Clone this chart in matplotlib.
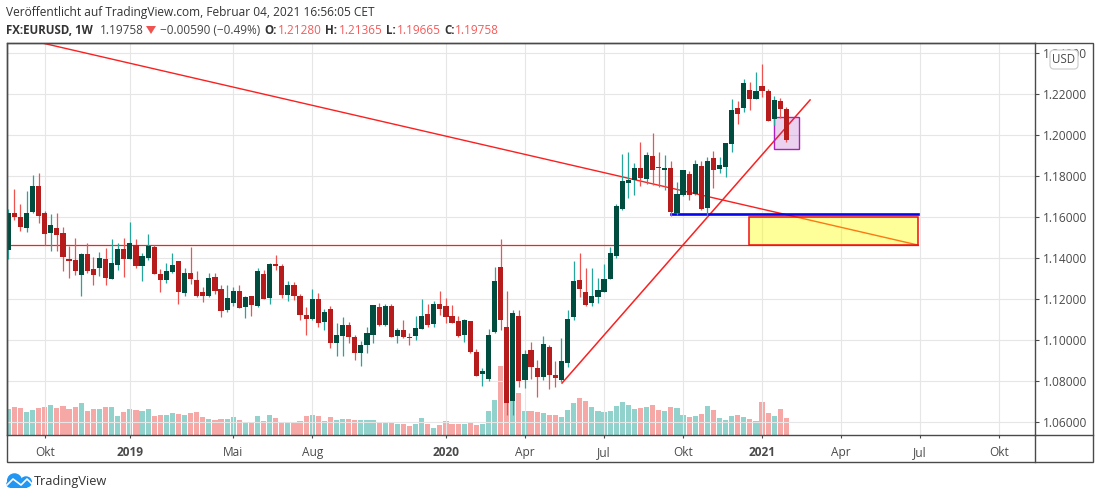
# EURUSD weekly chart, TradingView snapshot
import matplotlib
matplotlib.use("Agg")
import matplotlib.pyplot as plt
from matplotlib.patches import Rectangle, FancyBboxPatch, Polygon, Ellipse

plt.rcParams["font.family"] = ["Open Sans", "DejaVu Sans"]

opens = [
    1.1439, 1.1618, 1.1598, 1.1544, 1.1624, 1.1749, 1.1618, 1.1520, 1.1544, 1.1520,
    1.1393, 1.1388, 1.1315, 1.1418, 1.1344, 1.1349, 1.1393, 1.1296, 1.1364, 1.1442,
    1.1393, 1.1461, 1.1359, 1.1398, 1.1452, 1.1320, 1.1291, 1.1330, 1.1383, 1.1227,
    1.1325, 1.1291, 1.1232, 1.1213, 1.1305, 1.1247, 1.1144, 1.1179, 1.1237, 1.1159,
    1.1213, 1.1164, 1.1323, 1.1206, 1.1372, 1.1362, 1.1221, 1.1270, 1.1216, 1.1123,
    1.1104, 1.1201, 1.1089, 1.1153, 1.0987, 1.1021, 1.1075, 1.1016, 1.0938, 1.0977,
    1.1026, 1.1162, 1.1075, 1.1167, 1.1021, 1.1050, 1.1016, 1.1021, 1.1055, 1.1128,
    1.1079, 1.1177, 1.1167, 1.1118, 1.1094, 1.1026, 1.1094, 1.0943, 1.0836, 1.0811,
    1.1040, 1.1358, 1.1065, 1.0704, 1.1118, 1.0806, 1.0953, 1.0865, 1.0821, 1.0967,
    1.0831, 1.0806, 1.0889, 1.1114, 1.1294, 1.1236, 1.1182, 1.1211, 1.1236, 1.1299,
    1.1411, 1.1639, 1.1766, 1.1780, 1.1839, 1.1785, 1.1897, 1.1844, 1.1829, 1.1839,
    1.1619, 1.1707, 1.1810, 1.1712, 1.1849, 1.1644, 1.1888, 1.1834, 1.1844, 1.1956,
    1.2132, 1.2132, 1.2220, 1.2176, 1.2239, 1.2215, 1.2078, 1.2166, 1.2128,
]
highs = [
    1.1640, 1.1735, 1.1661, 1.1725, 1.1803, 1.1816, 1.1629, 1.1613, 1.1621, 1.1553,
    1.1458, 1.1500, 1.1422, 1.1474, 1.1403, 1.1427, 1.1447, 1.1491, 1.1474, 1.1500,
    1.1575, 1.1491, 1.1422, 1.1515, 1.1461, 1.1344, 1.1374, 1.1422, 1.1383, 1.1349,
    1.1452, 1.1335, 1.1257, 1.1325, 1.1325, 1.1266, 1.1266, 1.1257, 1.1266, 1.1217,
    1.1217, 1.1349, 1.1343, 1.1377, 1.1416, 1.1372, 1.1289, 1.1284, 1.1226, 1.1162,
    1.1250, 1.1231, 1.1153, 1.1167, 1.1084, 1.1114, 1.1089, 1.1026, 1.0997, 1.1065,
    1.1172, 1.1182, 1.1177, 1.1177, 1.1060, 1.1099, 1.1036, 1.1118, 1.1201, 1.1177,
    1.1192, 1.1240, 1.1206, 1.1172, 1.1118, 1.1104, 1.1094, 1.0958, 1.0865, 1.1055,
    1.1358, 1.1494, 1.1240, 1.1148, 1.1148, 1.0953, 1.0992, 1.0904, 1.1021, 1.0977,
    1.0899, 1.1011, 1.1148, 1.1387, 1.1426, 1.1353, 1.1353, 1.1304, 1.1372, 1.1455,
    1.1663, 1.1907, 1.1917, 1.1863, 1.1966, 1.1917, 1.2010, 1.1917, 1.1902, 1.1873,
    1.1771, 1.1829, 1.1824, 1.1878, 1.1873, 1.1892, 1.1922, 1.1892, 1.1961, 1.2176,
    1.2166, 1.2274, 1.2259, 1.2308, 1.2347, 1.2225, 1.2191, 1.2181, 1.21365,
]
lows = [
    1.1393, 1.1585, 1.1531, 1.1526, 1.1618, 1.1569, 1.1461, 1.1432, 1.1432, 1.1335,
    1.1301, 1.1315, 1.1214, 1.1325, 1.1266, 1.1310, 1.1266, 1.1296, 1.1340, 1.1305,
    1.1393, 1.1349, 1.1286, 1.1388, 1.1320, 1.1232, 1.1276, 1.1328, 1.1174, 1.1217,
    1.1271, 1.1208, 1.1183, 1.1208, 1.1222, 1.1110, 1.1136, 1.1166, 1.1154, 1.1105,
    1.1115, 1.1159, 1.1200, 1.1177, 1.1343, 1.1206, 1.1192, 1.1197, 1.1099, 1.1026,
    1.1099, 1.1065, 1.1050, 1.0962, 1.0923, 1.0923, 1.0987, 1.0904, 1.0875, 1.0938,
    1.0987, 1.1070, 1.1070, 1.1016, 1.0987, 1.1011, 1.0977, 1.1001, 1.1055, 1.1065,
    1.1065, 1.1123, 1.1084, 1.1084, 1.1016, 1.0992, 1.0938, 1.0826, 1.0777, 1.0801,
    1.1036, 1.1050, 1.0636, 1.0636, 1.0772, 1.0767, 1.0811, 1.0723, 1.0806, 1.0762,
    1.0772, 1.0797, 1.0870, 1.1099, 1.1211, 1.1167, 1.1167, 1.1182, 1.1236, 1.1299,
    1.1401, 1.1634, 1.1693, 1.1707, 1.1751, 1.1761, 1.1756, 1.1746, 1.1732, 1.1605,
    1.1610, 1.1702, 1.1683, 1.1707, 1.1634, 1.1600, 1.1741, 1.1814, 1.1795, 1.1917,
    1.2054, 1.2113, 1.2122, 1.2176, 1.2186, 1.2069, 1.2049, 1.2083, 1.19665,
]
closes = [
    1.1621, 1.1598, 1.1551, 1.1621, 1.1749, 1.1605, 1.1515, 1.1559, 1.1510, 1.1403,
    1.1383, 1.1335, 1.1418, 1.1335, 1.1315, 1.1398, 1.1301, 1.1374, 1.1442, 1.1393,
    1.1471, 1.1359, 1.1408, 1.1457, 1.1320, 1.1291, 1.1335, 1.1364, 1.1232, 1.1325,
    1.1296, 1.1217, 1.1213, 1.1301, 1.1237, 1.1140, 1.1203, 1.1237, 1.1154, 1.1208,
    1.1169, 1.1335, 1.1201, 1.1372, 1.1362, 1.1221, 1.1270, 1.1216, 1.1123, 1.1104,
    1.1201, 1.1084, 1.1138, 1.0987, 1.1026, 1.1075, 1.1016, 1.0938, 1.0977, 1.1036,
    1.1172, 1.1075, 1.1167, 1.1016, 1.1050, 1.1016, 1.1011, 1.1060, 1.1118, 1.1075,
    1.1177, 1.1153, 1.1114, 1.1084, 1.1021, 1.1099, 1.0943, 1.0826, 1.0850, 1.1026,
    1.1289, 1.1099, 1.0694, 1.1133, 1.0801, 1.0933, 1.0870, 1.0821, 1.0982, 1.0831,
    1.0816, 1.0899, 1.1104, 1.1289, 1.1250, 1.1172, 1.1216, 1.1245, 1.1299, 1.1426,
    1.1653, 1.1775, 1.1780, 1.1839, 1.1790, 1.1902, 1.1829, 1.1839, 1.1839, 1.1624,
    1.1712, 1.1829, 1.1707, 1.1858, 1.1639, 1.1873, 1.1829, 1.1853, 1.1961, 1.2122,
    1.2103, 1.2254, 1.2176, 1.2215, 1.2215, 1.2069, 1.2171, 1.2127, 1.19758,
]
volumes = [
    79, 85, 82, 70, 76, 82, 85, 91, 82, 88, 79, 85, 97, 73, 79, 79, 85, 85, 58, 70,
    79, 76, 73, 79, 58, 61, 61, 67, 64, 61, 67, 70, 55, 49, 46, 49, 49, 55, 46, 40,
    37, 58, 43, 61, 52, 40, 40, 40, 43, 58, 61, 58, 43, 55, 46, 49, 49, 46, 46, 46,
    46, 37, 40, 40, 34, 34, 28, 34, 52, 34, 22, 31, 43, 34, 34, 34, 37, 31, 34, 73,
    106, 207, 150, 135, 127, 73, 73, 70, 67, 61, 61, 55, 76, 97, 112, 103, 85, 73, 70, 73,
    88, 100, 91, 79, 82, 85, 91, 76, 73, 85, 82, 61, 55, 58, 64, 88, 76, 52, 46, 58,
    61, 55, 49, 43, 100, 67, 58, 79, 52,
]

price_ticks = [1.06, 1.08, 1.10, 1.12, 1.14, 1.16, 1.18, 1.20, 1.22, 1.24]
time_ticks = [6, 20, 37, 50, 72, 85, 98, 111, 124, 137, 150, 163]
time_labels = ["Okt", "2019", "Mai", "Aug", "2020", "Apr", "Jul", "Okt", "2021", "Apr", "Jul", "Okt"]
year_labels = ["2019", "2020", "2021"]

# drawings on the chart, bar index and price
falling_x = [5.54, 149.67]
falling_y = [1.2449, 1.1463]
rising_x = [91.1, 131.9]
rising_y = [1.0790, 1.2171]
support_level = 1.1462
blue_level = 1.1615
blue_start = 109.0
drawing_end = 149.7
yellow_box = [121.9, 1.1462, 27.8, 0.0140]
purple_box = [126.0, 1.1933, 4.0, 0.0153]

W, H = 1100, 499
L, R, T, B = 6.7, 1035, 43, 435
FRAME = "#4a4a4a"
TEXT = "#4a4a4a"
RED_TXT = "#f45b5b"
LINE_RED = "#fb2020"

fig = plt.figure(figsize=(W / 100, H / 100), dpi=100, facecolor="white")
rect = [L / W, 1 - B / H, (R - L) / W, (B - T) / H]

vol_ax = fig.add_axes(rect, zorder=1)
ax = fig.add_axes(rect, zorder=2)
ax.patch.set_visible(False)

idx = list(range(len(opens)))
up = [c >= o for o, c in zip(opens, closes)]

vol_ax.bar(idx, volumes, width=0.85, linewidth=0,
           color=["#26a69a" if u else "#ef5350" for u in up], alpha=0.5)
vol_ax.set_xlim(-0.26, 168.9)
vol_ax.set_ylim(0, 1176)
vol_ax.axis("off")

# drawings sit under the candles
ax.plot(falling_x, falling_y, color=LINE_RED, linewidth=1.0, zorder=2)
ax.plot([-0.26, drawing_end], [support_level, support_level], color=LINE_RED, linewidth=0.9, zorder=2)
ax.plot(rising_x, rising_y, color=LINE_RED, linewidth=1.1, zorder=2)
ax.add_patch(Rectangle(yellow_box[:2], yellow_box[2], yellow_box[3], facecolor="#ffff00",
                       alpha=0.4, linewidth=0, zorder=2.2))
ax.add_patch(Rectangle(yellow_box[:2], yellow_box[2], yellow_box[3], fill=False,
                       edgecolor="#f01010", linewidth=1.1, zorder=2.3))
ax.add_patch(Rectangle(purple_box[:2], purple_box[2], purple_box[3], facecolor="#9c27b0",
                       alpha=0.2, linewidth=0, zorder=2.2))
ax.add_patch(Rectangle(purple_box[:2], purple_box[2], purple_box[3], fill=False,
                       edgecolor="#aa22bb", linewidth=1.0, zorder=2.3))
ax.plot([blue_start, drawing_end], [blue_level, blue_level], color="#0505ee", linewidth=1.9, zorder=2.4)

ax.vlines(idx, lows, highs, colors=["#26a69a" if u else "#ef5350" for u in up],
          linewidth=0.9, zorder=3)
ax.bar(idx, [abs(c - o) for o, c in zip(opens, closes)],
       bottom=[min(o, c) for o, c in zip(opens, closes)], width=0.85, linewidth=0,
       color=["#004d40" if u else "#b71c1c" for u in up], zorder=4)

ax.set_xlim(-0.26, 168.9)
ax.set_ylim(1.05366, 1.24488)
ax.set_yticks(price_ticks)
ax.set_yticklabels([f"{p:.5f}" for p in price_ticks])
ax.set_xticks(time_ticks)
ax.set_xticklabels(time_labels)
ax.yaxis.tick_right()
ax.grid(True, color="#e6e6e6", linewidth=0.8, zorder=0)
ax.set_axisbelow(True)
ax.tick_params(axis="both", width=0.8, color=FRAME, labelcolor=TEXT, labelsize=8.6)
ax.tick_params(axis="x", length=2.2, pad=5.6)
ax.tick_params(axis="y", length=3, pad=3)
for lab in ax.get_xticklabels():
    if lab.get_text() in year_labels:
        lab.set_fontweight("bold")
for s in ax.spines.values():
    s.set_color(FRAME)
    s.set_linewidth(1.0)

# page furniture in pixel coordinates
page = fig.add_axes([0, 0, 1, 1], zorder=3)
page.set_xlim(0, W)
page.set_ylim(H, 0)
page.axis("off")
page.patch.set_visible(False)
page.add_patch(Rectangle((L, T), 1093 - L, 462 - T, fill=False, edgecolor=FRAME, linewidth=1.0))
page.plot([R, 1093], [B, B], color=FRAME, linewidth=1.0)
page.plot([R, R], [B, 462], color=FRAME, linewidth=1.0)
page.add_patch(FancyBboxPatch((1052, 52), 24, 15, boxstyle="round,pad=2,rounding_size=4",
                              facecolor="white", edgecolor="#d0d0d0", linewidth=0.9))
page.text(1064, 59, "USD", fontsize=8.3, color=TEXT, ha="center", va="center")

page.text(6, 12.5, "Veröffentlicht auf TradingView.com, Februar 04, 2021 16:56:05 CET",
          fontsize=8.6, color="#333333", va="center")
y2 = 30
page.text(6, y2, "FX:EURUSD, 1W", fontsize=8.3, fontweight="bold", color="#333333", va="center")
page.text(100, y2, "1.19758", fontsize=8.5, color="#444444", va="center")
page.add_patch(Polygon([(146, 26), (156, 26), (151, 34)], closed=True, facecolor="#ef5350", linewidth=0))
page.text(160, y2, "−0.00590 (−0.49%)", fontsize=8.5, color="#444444", va="center")
for x, s in [(264, "O:"), (325, "H:"), (386, "L:"), (444, "C:")]:
    page.text(x, y2, s, fontsize=8.3, fontweight="bold", color="#333333", va="center")
for x, s in [(278, "1.21280"), (339, "1.21365"), (397, "1.19665"), (455, "1.19758")]:
    page.text(x, y2, s, fontsize=8.5, color=RED_TXT, va="center")

# logo
page.add_patch(Ellipse((14.5, 480.5), 15, 14.5, facecolor="#2196f3", linewidth=0))
page.add_patch(Ellipse((26, 482), 12, 11.5, facecolor="#2196f3", linewidth=0))
page.add_patch(Ellipse((10, 484), 7.5, 7.5, facecolor="#2196f3", linewidth=0))
page.add_patch(Rectangle((10, 482), 17, 6, facecolor="#2196f3", linewidth=0))
page.plot([7, 13, 21, 27, 32], [485, 479, 485, 479, 484], color="white", linewidth=1.2)
page.text(34, 481, "TradingView", fontsize=9.2, color="#333333", va="center")

fig.savefig("out.png", dpi=100)
